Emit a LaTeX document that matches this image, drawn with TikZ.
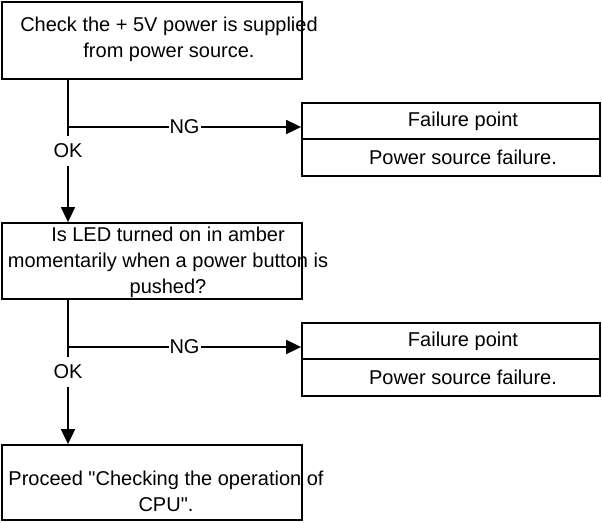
\documentclass[tikz,border=0pt]{standalone}
\usepackage{fontspec}
\setmainfont{Liberation Sans}[Ligatures=TeXOff]
\usepackage{tikz}
\usetikzlibrary{arrows.meta,calc}
\newcommand{\flowfont}{\fontsize{20}{26}\selectfont}

\begin{document}
\begin{tikzpicture}[x=1pt,y=-1pt,
  box/.style={draw,line width=1.8pt,minimum width=300pt,inner sep=0pt},
  txt/.style={align=center,font=\flowfont,inner sep=0pt},
  fail/.style={draw,line width=1.8pt,minimum width=298pt,inner sep=0pt,font=\flowfont,
               execute at begin node=\hspace*{24pt}},
  arr/.style={-{Triangle[length=15pt,width=14pt]},line width=1.8pt},
  lbl/.style={fill=white,font=\flowfont,inner xsep=1pt,inner ysep=8pt}
]
\useasboundingbox (0,0) rectangle (602,522);
\node[box,minimum height=77pt] (check) at (152,40.5) {};
\node[txt] (checktxt) at (169,39) {Check the + 5V power is supplied\\from power source.};
\node[box,minimum height=76pt] (led) at (152,261) {};
\node[txt] (ledtxt) at (168,262) {Is LED turned on in amber\\momentarily when a power button is\\pushed?};
\node[box,minimum height=75pt] (proceed) at (152,482.5) {};
\node[txt] (proceedtxt) at (166,491) {Proceed "Checking the operation of\\CPU".};
\node[fail,minimum height=36pt] (failA) at (451,121) {Failure point};
\node[fail,minimum height=37pt] (causeA) at (451,157.5) {Power source failure.};
\node[fail,minimum height=36pt] (failB) at (451,341) {Failure point};
\node[fail,minimum height=37pt] (causeB) at (451,377.5) {Power source failure.};
\coordinate (ngA) at (68,127);
\coordinate (ngB) at (68,347);
\draw[arr] (check.south -| ngA) -- node[lbl]{OK} (led.north -| ngA);
\draw[arr] (ngA) -- node[lbl,inner ysep=1pt]{NG} (ngA -| failA.west);
\draw[arr] (led.south -| ngB) -- node[lbl]{OK} (proceed.north -| ngB);
\draw[arr] (ngB) -- node[lbl,inner ysep=1pt]{NG} (ngB -| failB.west);
\end{tikzpicture}
\end{document}
